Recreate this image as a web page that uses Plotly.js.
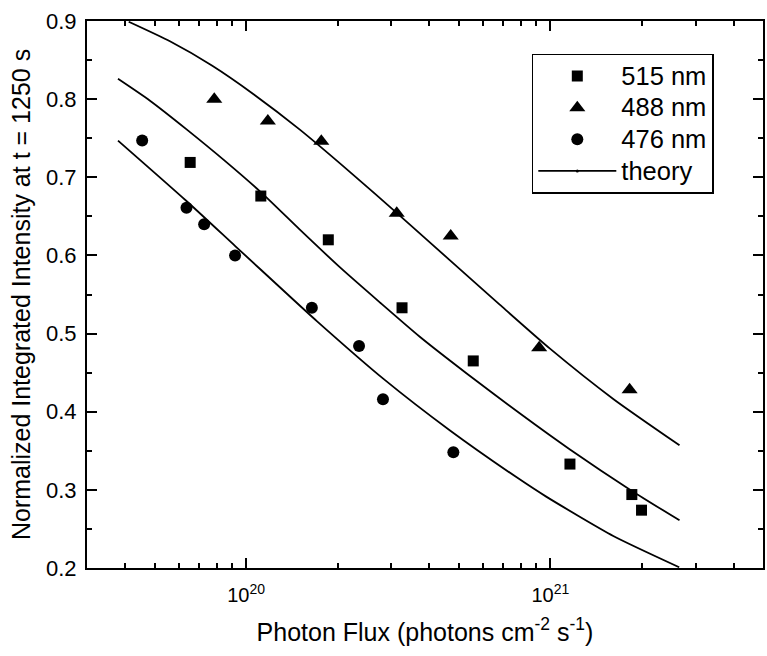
<!DOCTYPE html>
<html>
<head>
<meta charset="utf-8">
<script src="https://cdn.plot.ly/plotly-3.0.1.min.js"></script>
<style>
  html, body { margin: 0; padding: 0; background: #fff; }
  #chart { width: 767px; height: 656px; }
</style>
</head>
<body>
<div id="chart"></div>
<script>
// Measured data (photon flux in photons cm^-2 s^-1, normalized intensity)
const x515 = [6.55e19, 1.118e20, 1.863e20, 3.255e20, 5.58e20, 1.16e21, 1.853e21, 1.994e21];
const y515 = [0.719, 0.676, 0.620, 0.533, 0.465, 0.333, 0.294, 0.274];

const x488 = [7.86e19, 1.179e20, 1.767e20, 3.127e20, 4.705e20, 9.19e20, 1.822e21];
const y488 = [0.800, 0.772, 0.746, 0.654, 0.625, 0.482, 0.428];

const x476 = [4.555e19, 6.37e19, 7.28e19, 9.20e19, 1.645e20, 2.351e20, 2.818e20, 4.80e20];
const y476 = [0.747, 0.661, 0.640, 0.600, 0.533, 0.484, 0.416, 0.348];

// Theory curves
const xTheory488 = [4.113e19, 5.62e19, 7.72e19, 1.061e20, 1.502e20, 2.192e20, 3.2e20, 4.67e20, 6.817e20, 9.95e20, 1.614e21, 2.658e21];
const yTheory488 = [0.899, 0.874, 0.843, 0.806, 0.761, 0.707, 0.651, 0.594, 0.537, 0.481, 0.416, 0.357];

const xTheory515 = [3.793e19, 4.832e19, 6.39e19, 8.52e19, 1.118e20, 1.502e20, 2.032e20, 2.751e20, 3.723e20, 5.31e20, 7.93e20, 1.157e21, 1.849e21, 2.658e21];
const yTheory515 = [0.826, 0.798, 0.761, 0.721, 0.681, 0.633, 0.585, 0.540, 0.496, 0.449, 0.398, 0.352, 0.299, 0.261];

const xTheory476 = [3.793e19, 6.356e19, 9.21e19, 1.379e20, 1.708e20, 2.829e20, 4.68e20, 7.752e20, 9.72e20, 1.61e21, 2.652e21];
const yTheory476 = [0.747, 0.670, 0.612, 0.549, 0.516, 0.442, 0.376, 0.316, 0.291, 0.241, 0.201];

const xTickVals = [1e20, 1e21];
const xTickText = ['10<sup>20</sup>', '10<sup>21</sup>'];
const xMinorVals = [4e19, 5e19, 6e19, 7e19, 8e19, 9e19, 2e20, 3e20, 4e20, 5e20, 6e20, 7e20, 8e20, 9e20, 2e21, 3e21, 4e21];

const seriesNames = ['515 nm', '488 nm', '476 nm', 'theory'];

const FONT = '"Liberation Sans", Arial, Helvetica, sans-serif';
const legendLabel = s => '<span style="font-size:25.5px">' + s + '</span>';

const theoryLine = {color: '#000', width: 1.8, shape: 'spline', smoothing: 0.6};

const traces = [
  {x: x515, y: y515, mode: 'markers', name: legendLabel(seriesNames[0]),
   marker: {symbol: 'square', size: 11, color: '#000'}},
  {x: x488, y: y488, mode: 'markers', name: legendLabel(seriesNames[1]),
   marker: {symbol: 'triangle-up', size: 14, color: '#000'}},
  {x: x476, y: y476, mode: 'markers', name: legendLabel(seriesNames[2]),
   marker: {symbol: 'circle', size: 12, color: '#000'}},
  {x: xTheory488, y: yTheory488, mode: 'lines', name: seriesNames[3], showlegend: false, line: theoryLine},
  {x: xTheory515, y: yTheory515, mode: 'lines', name: seriesNames[3], showlegend: false, line: theoryLine},
  {x: xTheory476, y: yTheory476, mode: 'lines', name: seriesNames[3], showlegend: false, line: theoryLine},
  {x: [null], y: [null], mode: 'lines+markers', name: legendLabel(seriesNames[3]),
   line: {color: '#000', width: 1.8}, marker: {size: 3, color: '#000'}}
];

const layout = {
  width: 767, height: 656,
  margin: {l: 87, r: 4, t: 21, b: 88},
  paper_bgcolor: '#fff', plot_bgcolor: '#fff',
  font: {family: FONT, color: '#000', size: 20},
  showlegend: true,
  legend: {
    x: 0.658, y: 0.94, xanchor: 'left', yanchor: 'top',
    bordercolor: '#000', borderwidth: 1.5, bgcolor: '#fff',
    font: {family: FONT, size: 22, color: '#000'},
    itemwidth: 78, tracegroupgap: 0
  },
  xaxis: {
    type: 'log',
    range: [Math.log10(3e19), Math.log10(5e21)],
    tickmode: 'array', tickvals: xTickVals, ticktext: xTickText,
    ticks: 'inside', ticklen: 10, tickwidth: 2, tickcolor: '#000',
    ticklabelstandoff: 8,
    minor: {tickmode: 'array', tickvals: xMinorVals, ticks: 'inside', ticklen: 5, tickwidth: 2, tickcolor: '#000', showgrid: false},
    showline: true, linecolor: '#000', linewidth: 2, mirror: 'ticks',
    showgrid: false, zeroline: false,
    tickfont: {family: FONT, size: 20, color: '#000'},
    title: {text: 'Photon Flux (photons cm<sup>-2</sup> s<sup>-1</sup>)', font: {family: FONT, size: 25, color: '#000'}, standoff: 18}
  },
  yaxis: {
    range: [0.2, 0.9],
    tickmode: 'linear', tick0: 0.2, dtick: 0.1, tickformat: '.1f',
    ticks: 'inside', ticklen: 10, tickwidth: 2, tickcolor: '#000',
    ticklabelstandoff: 4,
    minor: {dtick: 0.05, ticks: 'inside', ticklen: 5, tickwidth: 2, tickcolor: '#000', showgrid: false},
    showline: true, linecolor: '#000', linewidth: 2, mirror: 'ticks',
    showgrid: false, zeroline: false,
    tickfont: {family: FONT, size: 22, color: '#000'},
    title: {text: 'Normalized Integrated Intensity at t = 1250 s', font: {family: FONT, size: 25, color: '#000'}, standoff: 8}
  }
};

Plotly.newPlot('chart', traces, layout, {displayModeBar: false, responsive: false});
</script>
</body>
</html>
